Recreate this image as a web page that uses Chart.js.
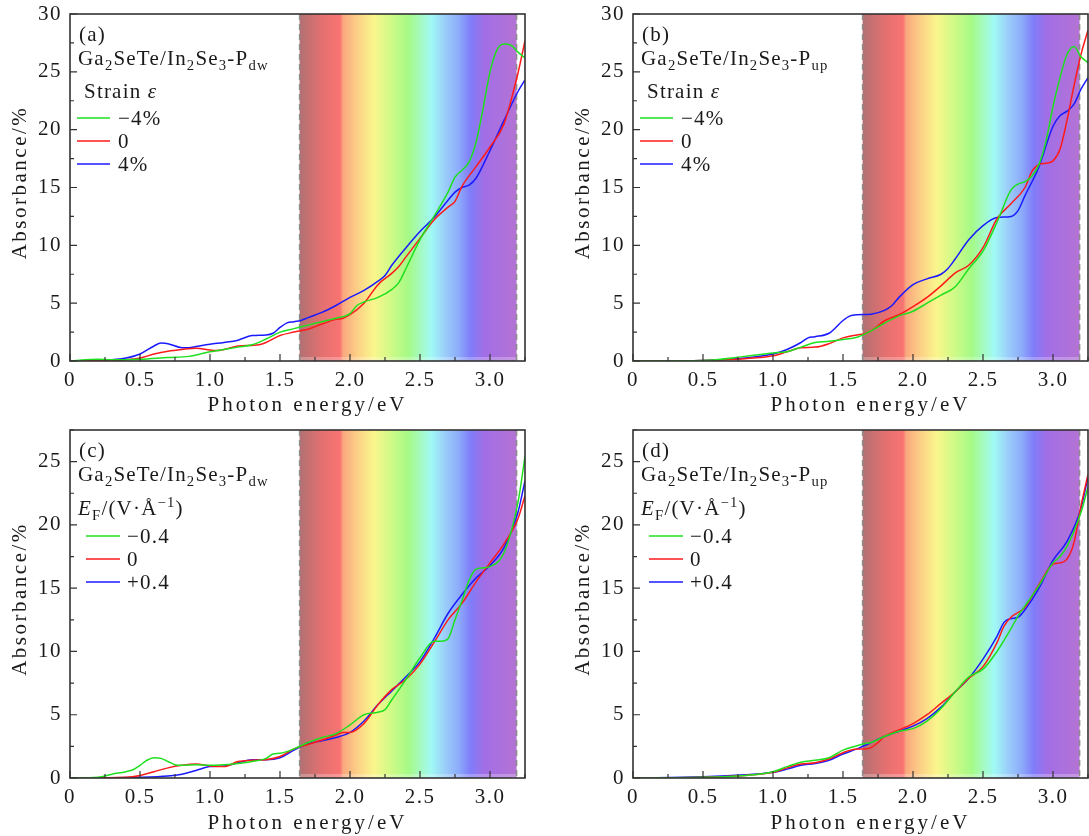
<!DOCTYPE html>
<html>
<head>
<meta charset="utf-8">
<script src="https://cdn.jsdelivr.net/npm/chart.js@4"></script>
<style>
  body { margin: 0; background: #fff; overflow: hidden; }
  #wrap { position: relative; width: 1089px; height: 836px; overflow: hidden; }
  canvas { position: absolute; }
</style>
</head>
<body>
<div id="wrap">
  <canvas id="pa" width="545" height="418" style="left:0;top:0"></canvas>
  <canvas id="pb" width="545" height="418" style="left:563px;top:0"></canvas>
  <canvas id="pc" width="545" height="418" style="left:0;top:418px"></canvas>
  <canvas id="pd" width="545" height="418" style="left:563px;top:418px"></canvas>
</div>
<script>
// ---- data (photon energy in eV, absorbance in %) ----

// (a) strain, P_dw
const a_m4_E = [0, 0.2, 0.3, 0.5, 0.7, 0.85, 1.0, 1.1, 1.2, 1.3, 1.4, 1.5, 1.6, 1.7, 1.8, 1.9, 2.0, 2.05, 2.1, 2.2, 2.3, 2.35, 2.4, 2.5, 2.6, 2.7, 2.75, 2.8, 2.85, 2.9, 2.95, 3.0, 3.05, 3.1, 3.15, 3.2, 3.25]
const a_m4   = [0, 0.15, 0.1, 0.15, 0.3, 0.4, 0.8, 1.0, 1.2, 1.4, 1.9, 2.5, 2.8, 3.1, 3.4, 3.7, 4.1, 4.8, 5.1, 5.5, 6.2, 6.8, 8.0, 10.5, 12.5, 14.6, 15.9, 16.5, 17.2, 18.9, 21.8, 25.0, 26.9, 27.4, 27.3, 26.7, 26.2]
const a_0_E  = [0, 0.3, 0.4, 0.5, 0.6, 0.7, 0.8, 0.9, 1.0, 1.05, 1.1, 1.2, 1.3, 1.35, 1.4, 1.5, 1.6, 1.7, 1.8, 1.9, 1.95, 2.0, 2.1, 2.2, 2.3, 2.35, 2.4, 2.5, 2.6, 2.7, 2.75, 2.8, 2.9, 3.0, 3.1, 3.2, 3.25]
const a_0    = [0, 0.05, 0.1, 0.25, 0.6, 0.85, 1.0, 1.1, 0.95, 0.9, 1.0, 1.3, 1.35, 1.4, 1.6, 2.2, 2.5, 2.75, 3.2, 3.6, 3.7, 4.0, 5.0, 6.6, 7.6, 8.2, 9.0, 10.6, 12.2, 13.3, 13.8, 15.1, 16.8, 18.5, 20.5, 24.9, 27.7]
const a_p4_E = [0, 0.3, 0.4, 0.5, 0.6, 0.65, 0.7, 0.8, 0.85, 0.9, 1.0, 1.1, 1.2, 1.3, 1.4, 1.45, 1.5, 1.55, 1.6, 1.65, 1.7, 1.8, 1.9, 2.0, 2.1, 2.2, 2.25, 2.3, 2.4, 2.5, 2.6, 2.7, 2.75, 2.8, 2.85, 2.9, 3.0, 3.1, 3.2, 3.25]
const a_p4   = [0, 0.1, 0.25, 0.6, 1.3, 1.55, 1.5, 1.15, 1.15, 1.25, 1.45, 1.6, 1.8, 2.2, 2.25, 2.4, 2.9, 3.3, 3.4, 3.5, 3.75, 4.2, 4.8, 5.5, 6.1, 6.9, 7.4, 8.3, 9.8, 11.2, 12.4, 13.9, 14.6, 15.0, 15.2, 15.8, 18.2, 20.8, 23.3, 24.3]

// (b) strain, P_up
const b_m4_E = [0, 0.5, 0.8, 1.0, 1.1, 1.2, 1.3, 1.4, 1.5, 1.6, 1.65, 1.7, 1.8, 1.9, 2.0, 2.1, 2.2, 2.3, 2.4, 2.5, 2.6, 2.7, 2.75, 2.8, 2.85, 2.9, 2.95, 3.0, 3.05, 3.1, 3.15, 3.2, 3.25]
const b_m4   = [0, 0.05, 0.4, 0.7, 0.8, 1.2, 1.6, 1.7, 1.85, 2.05, 2.3, 2.6, 3.3, 3.9, 4.3, 5.0, 5.7, 6.4, 8.0, 9.5, 12.0, 14.8, 15.3, 15.5, 16.0, 17.0, 19.0, 22.0, 24.5, 26.5, 27.2, 26.3, 25.8]
const b_0_E  = [0, 0.5, 0.8, 1.0, 1.1, 1.2, 1.3, 1.4, 1.5, 1.6, 1.65, 1.7, 1.8, 1.9, 2.0, 2.1, 2.2, 2.3, 2.4, 2.5, 2.6, 2.7, 2.8, 2.85, 2.9, 2.95, 3.0, 3.05, 3.1, 3.15, 3.2, 3.25]
const b_0    = [0, 0.05, 0.2, 0.45, 0.8, 1.15, 1.2, 1.5, 2.0, 2.25, 2.35, 2.6, 3.5, 4.0, 4.7, 5.5, 6.5, 7.6, 8.3, 9.8, 12.3, 13.6, 15.0, 16.4, 17.0, 17.1, 17.3, 18.3, 20.8, 23.8, 26.5, 28.6]
const b_p4_E = [0, 0.5, 0.8, 1.0, 1.1, 1.2, 1.25, 1.3, 1.4, 1.5, 1.55, 1.6, 1.7, 1.8, 1.85, 1.9, 2.0, 2.1, 2.2, 2.25, 2.3, 2.4, 2.5, 2.6, 2.7, 2.75, 2.8, 2.9, 3.0, 3.05, 3.1, 3.15, 3.2, 3.25]
const b_p4   = [0, 0.05, 0.25, 0.6, 1.0, 1.6, 2.0, 2.1, 2.4, 3.5, 3.9, 4.0, 4.05, 4.4, 4.8, 5.5, 6.6, 7.1, 7.5, 8.0, 8.8, 10.5, 11.7, 12.4, 12.5, 13.0, 14.3, 16.8, 20.3, 21.2, 21.6, 22.2, 23.5, 24.5]

// (c) electric field, P_dw
const c_m_E = [0, 0.2, 0.3, 0.4, 0.45, 0.5, 0.55, 0.6, 0.65, 0.7, 0.75, 0.8, 0.9, 1.0, 1.1, 1.2, 1.3, 1.4, 1.45, 1.5, 1.6, 1.7, 1.8, 1.9, 2.0, 2.1, 2.2, 2.25, 2.3, 2.4, 2.5, 2.6, 2.65, 2.7, 2.75, 2.8, 2.85, 2.9, 2.95, 3.0, 3.1, 3.2, 3.25]
const c_m   = [0, 0.05, 0.3, 0.5, 0.65, 1.0, 1.4, 1.6, 1.55, 1.3, 1.05, 1.0, 1.05, 1.0, 1.05, 1.15, 1.3, 1.55, 1.9, 1.95, 2.3, 2.8, 3.2, 3.5, 4.2, 5.0, 5.2, 5.4, 6.2, 7.8, 9.5, 10.8, 10.8, 11.0, 12.5, 14.0, 15.6, 16.5, 16.6, 16.7, 17.8, 21.8, 25.4]
const c_0_E = [0, 0.4, 0.5, 0.6, 0.7, 0.8, 0.9, 1.0, 1.1, 1.2, 1.3, 1.4, 1.5, 1.6, 1.7, 1.8, 1.9, 1.95, 2.0, 2.1, 2.2, 2.3, 2.4, 2.5, 2.6, 2.7, 2.8, 2.9, 3.0, 3.1, 3.2, 3.25]
const c_0   = [0, 0.05, 0.2, 0.5, 0.8, 1.0, 1.1, 0.95, 0.9, 1.3, 1.4, 1.45, 1.7, 2.3, 2.65, 3.0, 3.4, 3.6, 3.6, 4.3, 5.8, 7.0, 7.8, 9.0, 10.7, 12.5, 13.8, 15.5, 17.0, 18.5, 20.5, 22.3]
const c_p_E = [0, 0.5, 0.7, 0.8, 0.9, 1.0, 1.1, 1.2, 1.3, 1.4, 1.5, 1.6, 1.7, 1.8, 1.9, 2.0, 2.1, 2.2, 2.3, 2.4, 2.5, 2.6, 2.7, 2.8, 2.9, 3.0, 3.1, 3.2, 3.25]
const c_p   = [0, 0.05, 0.15, 0.3, 0.6, 0.9, 0.95, 1.2, 1.45, 1.45, 1.6, 2.2, 2.7, 2.95, 3.2, 3.6, 4.5, 5.8, 6.9, 8.0, 9.2, 11.0, 13.0, 14.5, 15.8, 16.8, 18.2, 21.0, 23.5]

// (d) electric field, P_up
const d_m_E = [0, 0.5, 0.8, 1.0, 1.1, 1.2, 1.3, 1.4, 1.5, 1.6, 1.65, 1.7, 1.8, 1.9, 2.0, 2.1, 2.2, 2.3, 2.4, 2.5, 2.6, 2.7, 2.75, 2.8, 2.9, 3.0, 3.05, 3.1, 3.2, 3.25]
const d_m   = [0, 0.05, 0.2, 0.5, 0.9, 1.25, 1.4, 1.6, 2.2, 2.55, 2.7, 2.8, 3.3, 3.7, 3.9, 4.5, 5.5, 6.8, 8.0, 8.6, 10.0, 11.8, 12.8, 13.6, 15.2, 17.0, 17.5, 18.3, 21.0, 23.0]
const d_0_E = [0, 0.5, 0.8, 1.0, 1.1, 1.2, 1.3, 1.4, 1.5, 1.6, 1.65, 1.7, 1.75, 1.8, 1.9, 2.0, 2.1, 2.2, 2.3, 2.4, 2.5, 2.6, 2.65, 2.7, 2.8, 2.9, 3.0, 3.05, 3.1, 3.15, 3.2, 3.25]
const d_0   = [0, 0.05, 0.2, 0.45, 0.8, 1.1, 1.2, 1.5, 2.0, 2.3, 2.3, 2.4, 2.8, 3.3, 3.8, 4.3, 5.0, 5.9, 6.8, 7.9, 8.8, 10.7, 12.0, 12.7, 13.5, 15.3, 16.9, 17.0, 17.3, 18.6, 21.5, 24.0]
const d_p_E = [0, 0.5, 0.8, 1.0, 1.1, 1.2, 1.3, 1.4, 1.5, 1.6, 1.7, 1.8, 1.9, 2.0, 2.1, 2.2, 2.3, 2.4, 2.5, 2.6, 2.65, 2.7, 2.75, 2.8, 2.9, 3.0, 3.1, 3.2, 3.25]
const d_p   = [0, 0.1, 0.25, 0.45, 0.7, 1.0, 1.15, 1.4, 1.9, 2.3, 2.8, 3.3, 3.7, 4.1, 4.7, 5.6, 6.8, 7.9, 9.4, 11.2, 12.3, 12.6, 12.7, 13.3, 15.0, 17.2, 18.7, 21.3, 23.8]

// ---- axes / labels ----
const xTickValues = [0, 0.5, 1.0, 1.5, 2.0, 2.5, 3.0]
const xTitle = 'Photon energy/eV'
const yTitle = 'Absorbance/%'
const panelTags = ['(a)', '(b)', '(c)', '(d)']
const strainLabels = ['\u22124%', '0', '4%']
const fieldLabels = ['\u22120.4', '0', '+0.4']
const seriesColors = ['#1ee01e', '#ff1a1a', '#1a1aff']

// visible spectrum band (eV) and its colour stops
const SPEC_LO = 1.64
const SPEC_HI = 3.19
const specStops = [
    [1.64, 'rgb(178,112,114)'], [1.80, 'rgb(228,112,112)'], [1.93, 'rgb(248,116,114)'],
    [1.95, 'rgb(250,168,126)'], [2.06, 'rgb(252,210,135)'], [2.17, 'rgb(250,246,140)'],
    [2.30, 'rgb(205,250,135)'], [2.42, 'rgb(165,250,135)'], [2.50, 'rgb(165,250,190)'],
    [2.58, 'rgb(160,250,245)'], [2.68, 'rgb(155,205,250)'], [2.78, 'rgb(140,170,250)'],
    [2.86, 'rgb(128,125,250)'], [2.96, 'rgb(162,110,230)'], [3.19, 'rgb(180,115,212)']
]

const FONT = '"Liberation Serif", "Times New Roman", serif'
const INK = '#1a1a1a'

const zip = (xs, ys) => xs.map((x, i) => ({ x, y: ys[i] }))

// draws "rich" text: array of [text, mode] with mode '', 'sub', 'sup', 'it'
function drawRich(ctx, parts, x, y, size) {
    ctx.save()
    ctx.textBaseline = 'alphabetic'
    ctx.textAlign = 'left'
    ctx.fillStyle = INK
    ctx.letterSpacing = '1.2px'
    let cx = x
    parts.forEach(([t, mode]) => {
        let s = size, dy = 0, style = ''
        if (mode === 'sub') { s = size * 0.7; dy = size * 0.22 }
        if (mode === 'sup') { s = size * 0.7; dy = -size * 0.38 }
        if (mode === 'it') style = 'italic '
        ctx.font = `${style}${s}px ${FONT}`
        ctx.fillText(t, cx, y + dy)
        cx += ctx.measureText(t).width
    })
    ctx.restore()
}

const panelPlugin = {
    id: 'panelDecor',
    beforeLayout(chart) { chart.ctx.letterSpacing = '1.5px' },
    beforeDraw(chart) { chart.ctx.letterSpacing = '1.5px' },
    beforeDatasetsDraw(chart) {
        const { ctx, chartArea: ca, scales: { x } } = chart
        const x0 = x.getPixelForValue(SPEC_LO), x1 = x.getPixelForValue(SPEC_HI)
        const g = ctx.createLinearGradient(x0, 0, x1, 0)
        specStops.forEach(([e, c]) => g.addColorStop((e - SPEC_LO) / (SPEC_HI - SPEC_LO), c))
        ctx.save()
        ctx.fillStyle = g
        ctx.fillRect(x0, ca.top, x1 - x0, ca.bottom - ca.top)
        ctx.fillStyle = 'rgba(255,255,255,0.25)'
        ctx.fillRect(x0, ca.bottom - 4, x1 - x0, 4)
        ctx.strokeStyle = '#8c8c8c'
        ctx.lineWidth = 1.5
        ctx.setLineDash([6, 4])
        ;[x0, x1].forEach(px => {
            ctx.beginPath(); ctx.moveTo(px, ca.top); ctx.lineTo(px, ca.bottom); ctx.stroke()
        })
        ctx.restore()
    },
    afterDraw(chart) {
        const { ctx, chartArea: ca, scales: { x, y } } = chart
        const o = chart.options.plugins.panelDecor
        ctx.save()
        // frame
        ctx.strokeStyle = '#333'
        ctx.lineWidth = 1.6
        ctx.strokeRect(ca.left, ca.top, ca.right - ca.left, ca.bottom - ca.top)
        // inward ticks
        ctx.lineWidth = 1.2
        ctx.beginPath()
        for (let i = 0; i <= 13; i++) {
            const px = x.getPixelForValue(i * 0.25)
            const len = i % 2 ? 4 : 7
            ctx.moveTo(px, ca.bottom); ctx.lineTo(px, ca.bottom - len)
        }
        for (let v = 0; v <= y.max + 0.01; v += 2.5) {
            const py = y.getPixelForValue(v)
            const len = (v % 5) ? 4 : 7
            ctx.moveTo(ca.left, py); ctx.lineTo(ca.left + len, py)
        }
        ctx.stroke()

        // axis titles (wider letter spacing than Chart.js titles allow)
        ctx.fillStyle = INK
        ctx.font = `21px ${FONT}`
        ctx.textAlign = 'center'
        ctx.textBaseline = 'middle'
        ctx.letterSpacing = '3px'
        ctx.fillText(xTitle, (ca.left + ca.right) / 2 + 10, chart.height - 13)
        ctx.letterSpacing = '2.5px'
        ctx.translate(20, (ca.top + ca.bottom) / 2 - 5)
        ctx.rotate(-Math.PI / 2)
        ctx.fillText(yTitle, 0, 0)
        ctx.restore()

        // annotations
        const L = ca.left, T = ca.top
        drawRich(ctx, [[o.tag, '']], L + 9, T + 27, 21)
        drawRich(ctx, [['Ga', ''], ['2', 'sub'], ['SeTe/In', ''], ['2', 'sub'], ['Se', ''], ['3', 'sub'], ['-P', ''], [o.phase, 'sub']], L + 8, T + 51, 21)
        let rows, lineX0, lineX1, textX
        if (o.kind === 'strain') {
            drawRich(ctx, [['Strain ', ''], ['\u03b5', 'it']], L + 14, T + 84, 21)
            rows = [T + 104, T + 127, T + 150]; lineX0 = L + 7; lineX1 = L + 40; textX = L + 48
        } else {
            drawRich(ctx, [['E', 'it'], ['F', 'sub'], ['/(V\u00b7\u00c5', ''], ['\u22121', 'sup'], [')', '']], L + 8, T + 85, 21)
            rows = [T + 106, T + 129, T + 152]; lineX0 = L + 16; lineX1 = L + 50; textX = L + 57
        }
        o.labels.forEach((lab, i) => {
            ctx.save()
            ctx.strokeStyle = seriesColors[i]
            ctx.lineWidth = 1.5
            ctx.beginPath(); ctx.moveTo(lineX0, rows[i]); ctx.lineTo(lineX1, rows[i]); ctx.stroke()
            ctx.restore()
            drawRich(ctx, [[lab, '']], textX, rows[i] + 7, 21)
        })
    }
}

function makePanel(id, series, opts) {
    const { yMax, padTop, xHeight, padRight } = opts
    const datasets = series.map(([xs, ys], i) => ({
        data: zip(xs, ys),
        borderColor: seriesColors[i],
        borderWidth: 1.5,
        pointRadius: 0,
        cubicInterpolationMode: 'monotone',
        fill: false,
    }))
    return new Chart(document.getElementById(id), {
        type: 'line',
        data: { datasets },
        options: {
            responsive: false,
            animation: false,
            devicePixelRatio: 1,
            layout: { padding: { top: padTop, right: padRight, bottom: 0, left: 0 } },
            plugins: {
                legend: { display: false },
                tooltip: { enabled: false },
                panelDecor: opts.decor,
            },
            scales: {
                x: {
                    type: 'linear', min: 0, max: 3.25,
                    grid: { display: false, drawTicks: false },
                    border: { display: false },
                    afterBuildTicks: (s) => { s.ticks = xTickValues.map(v => ({ value: v })) },
                    afterFit: (s) => { s.height = xHeight; s.paddingLeft = 0; s.paddingRight = 0 },
                    ticks: {
                        padding: 7, color: INK, maxRotation: 0,
                        font: { family: FONT, size: 21 },
                        callback: (v) => v === 0 ? '0' : v.toFixed(1),
                    },
                },
                y: {
                    type: 'linear', min: 0, max: yMax,
                    grid: { display: false, drawTicks: false },
                    border: { display: false },
                    afterFit: (s) => { s.width = 70; s.paddingTop = 0; s.paddingBottom = 0 },
                    ticks: {
                        stepSize: 5, includeBounds: false, padding: 8, color: INK,
                        font: { family: FONT, size: 21 },
                    },
                },
            },
        },
        plugins: [panelPlugin],
    })
}

makePanel('pa', [[a_m4_E, a_m4], [a_0_E, a_0], [a_p4_E, a_p4]],
    { yMax: 30, padTop: 14, xHeight: 57, padRight: 20, decor: { tag: panelTags[0], phase: 'dw', kind: 'strain', labels: strainLabels } })
makePanel('pb', [[b_m4_E, b_m4], [b_0_E, b_0], [b_p4_E, b_p4]],
    { yMax: 30, padTop: 14, xHeight: 57, padRight: 20, decor: { tag: panelTags[1], phase: 'up', kind: 'strain', labels: strainLabels } })
makePanel('pc', [[c_m_E, c_m], [c_0_E, c_0], [c_p_E, c_p]],
    { yMax: 27.5, padTop: 12, xHeight: 58, padRight: 20, decor: { tag: panelTags[2], phase: 'dw', kind: 'field', labels: fieldLabels } })
makePanel('pd', [[d_m_E, d_m], [d_0_E, d_0], [d_p_E, d_p]],
    { yMax: 27.5, padTop: 12, xHeight: 58, padRight: 20, decor: { tag: panelTags[3], phase: 'up', kind: 'field', labels: fieldLabels } })
</script>
</body>
</html>
